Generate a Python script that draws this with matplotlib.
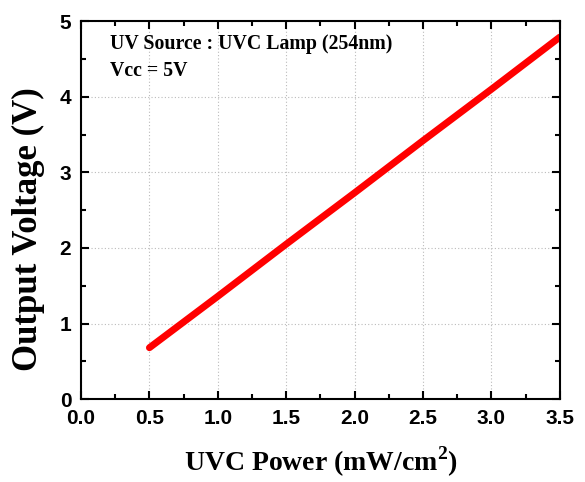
import matplotlib
matplotlib.use("Agg")
import matplotlib.pyplot as plt
from matplotlib.ticker import MultipleLocator

plt.rcParams["mathtext.fontset"] = "custom"
plt.rcParams["mathtext.rm"] = "Liberation Serif:bold"
plt.rcParams["mathtext.bf"] = "Liberation Serif:bold"

# UVC power (mW/cm^2) vs output voltage (V)
uvc_power = [0.5, 1.0, 1.5, 2.0, 2.5, 3.0, 3.5]
output_voltage = [0.68, 1.36, 2.05, 2.73, 3.42, 4.10, 4.79]

x_ticks = [0.0, 0.5, 1.0, 1.5, 2.0, 2.5, 3.0, 3.5]
y_ticks = [0, 1, 2, 3, 4, 5]

fig = plt.figure(figsize=(5.85, 4.82), dpi=100)
ax = fig.add_axes([0.1385, 0.172, 0.8185, 0.784])

ax.plot(uvc_power, output_voltage, color="#ff0000", linewidth=5, solid_capstyle="round")

ax.set_xlim(0, 3.5)
ax.set_ylim(0, 5)
ax.set_xticks(x_ticks)
ax.set_yticks(y_ticks)
ax.xaxis.set_minor_locator(MultipleLocator(0.25))
ax.yaxis.set_minor_locator(MultipleLocator(0.5))
ax.set_xticklabels([f"{v:.1f}" for v in x_ticks])
ax.set_yticklabels([str(v) for v in y_ticks])

ax.tick_params(which="both", direction="in", top=True, right=True, width=1.5)
ax.tick_params(which="major", length=6)
ax.tick_params(which="minor", length=3.5)
ax.tick_params(axis="x", which="major", pad=7)
ax.tick_params(axis="y", which="major", pad=7)
for lab in ax.get_xticklabels() + ax.get_yticklabels():
    lab.set_fontfamily("Liberation Sans")
    lab.set_fontweight("bold")
    lab.set_fontsize(15)
for sp in ax.spines.values():
    sp.set_linewidth(1.5)

ax.grid(True, which="major", color="#bbbbbb", linestyle=(0, (1, 2)), linewidth=0.8)

ax.set_xlabel("UVC Power (mW/cm$^{\\mathbf{2}}$)", fontfamily="Liberation Serif",
              fontweight="bold", fontsize=20, labelpad=12)
ax.set_ylabel("Output Voltage (V)", fontfamily="Liberation Serif",
              fontweight="bold", fontsize=25)
ax.yaxis.set_label_coords(-0.076, 0.45)

ax.text(0.06, 0.965, "UV Source : UVC Lamp (254nm)\nVcc = 5V", transform=ax.transAxes,
        ha="left", va="top", fontfamily="Liberation Serif", fontweight="bold",
        fontsize=14.3, linespacing=1.45)

fig.savefig("out.png", dpi=100)
